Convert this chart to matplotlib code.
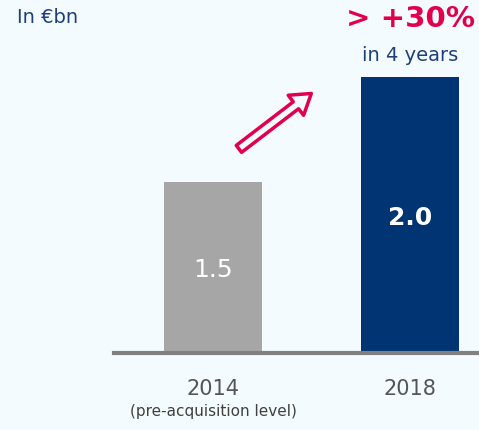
import matplotlib.pyplot as plt

# Data
years = ['2014', '2018']
values = [1.5, 2.0]
value_labels = ['1.5', '2.0']
bar_colors = ['#a6a6a6', '#003473']
sub_labels = ['(pre-acquisition level)', '']

bg = '#f3fbfe'
ymin = 0.686
ymax = 2.367

fig = plt.figure(figsize=(4.79, 4.30), dpi=100, facecolor=bg)
ax = fig.add_axes([0.238, 0.179, 0.762, 0.821])
ax.set_facecolor(bg)

x = list(range(len(years)))
ax.bar(x, [v - ymin for v in values], bottom=ymin, width=0.5, color=bar_colors)
ax.set_xlim(-0.503, 1.35)
ax.set_ylim(ymin, ymax)

# Value labels inside bars
ax.text(x[0], 1.08, value_labels[0], color='white', fontsize=18,
        ha='center', va='center')
ax.text(x[1], 1.33, value_labels[1], color='white', fontsize=18,
        fontweight='bold', ha='center', va='center')

# Axis styling
for s in ['top', 'right', 'left']:
    ax.spines[s].set_visible(False)
ax.spines['bottom'].set_color('#808080')
ax.spines['bottom'].set_linewidth(3)
ax.set_yticks([])
ax.set_xticks(x)
ax.set_xticklabels(years, fontsize=15, color='#555555')
ax.tick_params(axis='x', length=0, pad=19)

# Sub label under 2014
ax.text(x[0], -0.165, sub_labels[0], transform=ax.get_xaxis_transform(),
        fontsize=11, color='#404040', ha='center', va='center')

# Growth arrow
ax.annotate('', xy=(0.51, 1.93), xytext=(0.12, 1.65),
            arrowprops=dict(arrowstyle='simple,head_width=1.3,head_length=1.0,tail_width=0.45',
                            mutation_scale=14, fc=bg, ec='#e2004d', lw=2.5,
                            joinstyle='round'))

# Titles / annotations
fig.text(0.035, 0.96, 'In €bn', fontsize=14, color='#1f3f7a', ha='left', va='center')
fig.text(0.856, 0.955, '> +30%', fontsize=21, color='#e2004d', fontweight='bold',
         ha='center', va='center')
fig.text(0.856, 0.87, 'in 4 years', fontsize=14, color='#1f3f7a', ha='center', va='center')

plt.savefig('out.png', dpi=100, facecolor=bg)
